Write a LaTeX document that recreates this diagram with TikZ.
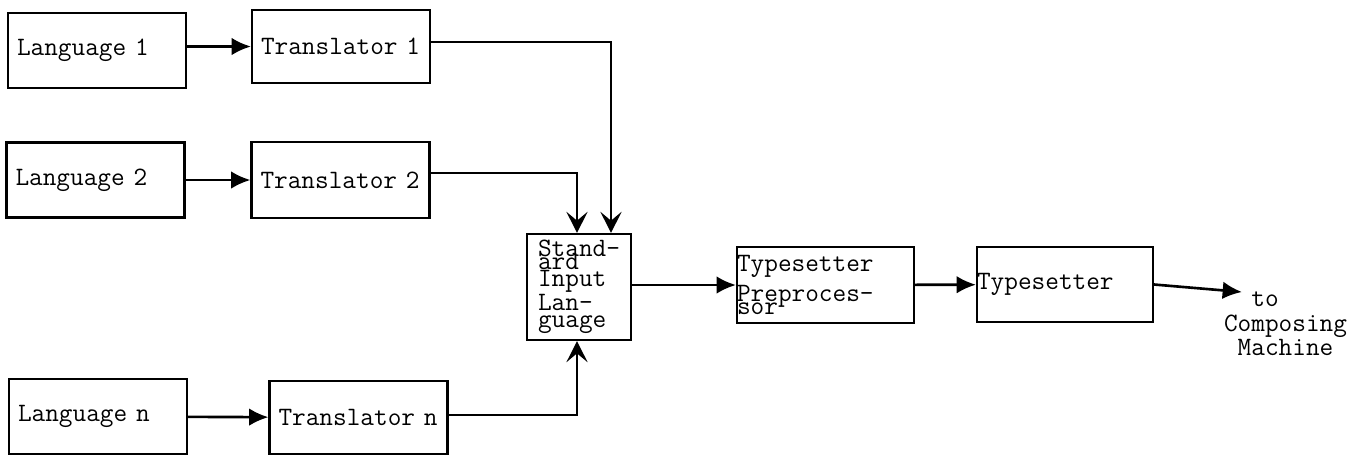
\documentclass[tikz,border=0pt]{standalone}
\usepackage{tikz}
\usetikzlibrary{arrows.meta}

\begin{document}
\begin{tikzpicture}[font=\ttfamily\fontsize{15.1}{15.3}\selectfont,
  blk/.style={draw, line width=1.2pt, minimum height=1.5cm, inner xsep=0.18cm, text width=3.2cm, align=left},
  flat/.style={blk, inner xsep=0pt, text width=3.54cm},
  arr/.style={line width=1.5pt, -{Latex[length=11pt,width=10pt]}},
  varr/.style={line width=1.5pt, -{Stealth[length=12pt,width=12pt,inset=5pt]}}]
\useasboundingbox (0,0) rectangle (27.38,-9.14);
% input languages and their translators
\node[blk]                        (lang1)  at (1.94,-1.01) {Language 1};
\node[blk, minimum height=1.46cm] (trans1) at (6.82,-0.93) {\mbox{Translator 1}};
\node[blk]                        (lang2)  at (1.91,-3.60) {Language 2};
\node[blk, minimum height=1.52cm] (trans2) at (6.81,-3.60) {\mbox{Translator 2}};
\node[blk]                        (langn)  at (1.96,-8.33) {Language n};
\node[blk, minimum height=1.46cm] (transn) at (7.17,-8.35) {\mbox{Translator n}};
% common stage
\node[blk, text width=1.64cm, inner xsep=0.22cm, minimum height=2.12cm,
  font=\ttfamily\fontsize{15.1}{9.7}\selectfont] (sil) at (11.58,-5.74)
  {Stand-\\[-2.3pt]ard\\Input\\Lan-\\guage};
\node[flat, minimum height=1.52cm, font=\ttfamily\fontsize{15.1}{17}\selectfont] (prep) at (16.51,-5.70)
  {Typesetter\\Preproces-\\[-9.6pt]sor};
\node[flat, text width=3.52cm] (typeset) at (21.30,-5.69) {Typesetter};
\node[align=left, inner sep=0pt, font=\ttfamily\fontsize{15.1}{14}\selectfont] (dest) at (25.71,-6.48)
  {\phantom{xx}to\\Composing\\\phantom{x}Machine};
\coordinate (tip) at (24.84,-5.84);
% connectors
\draw[arr] (lang1.east |- trans1) -- (trans1.west);
\draw[arr] (lang2) -- (trans2);
\draw[arr] (langn) -- (transn);
\draw[varr] ([yshift=0.09cm]trans1.east) -| ([xshift=0.64cm]sil.north);
\draw[varr] ([yshift=0.14cm]trans2.east) -| ([xshift=-0.04cm]sil.north);
\draw[varr] ([yshift=0.05cm]transn.east) -| ([xshift=-0.04cm]sil.south);
\draw[arr] (sil.east |- prep) -- (prep.west);
\draw[arr] (prep) -- (typeset);
\draw[arr] (typeset.east) -- (tip);
\end{tikzpicture}
\end{document}
